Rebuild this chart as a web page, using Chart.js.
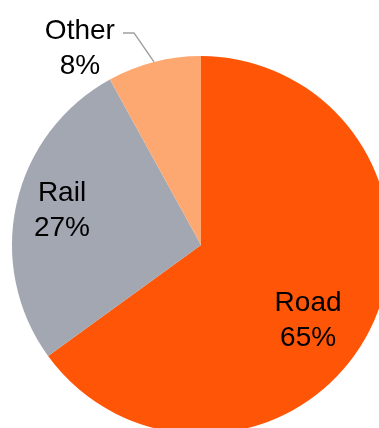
<!DOCTYPE html>
<html>
<head>
<meta charset="utf-8">
<script src="https://cdn.jsdelivr.net/npm/chart.js@4/dist/chart.umd.min.js"></script>
<style>
  html, body { margin: 0; padding: 0; background: #ffffff; overflow: hidden; width: 379px; height: 428px; }
  #wrap { position: absolute; left: 0; top: 0; }
</style>
</head>
<body>
<div id="wrap"><canvas id="pie" width="400" height="440"></canvas></div>
<script>
// 数据
const categories = ['Road', 'Rail', 'Other'];
const shares = [65, 27, 8];
const sliceColors = ['#fe5507', '#a2a7b2', '#fda870'];

// 标签位置（相对扇区中线的角度偏移和半径比例）
const labelPlacement = [
  { angle: 7.8, radius: 0.69, leader: false },
  { angle: 2.0, radius: 0.76, leader: false },
  { angle: -17, radius: 1.23, leader: true }
];

const pieLabels = {
  id: 'pieLabels',
  afterDatasetsDraw(chart) {
    const ctx = chart.ctx;
    const arcs = chart.getDatasetMeta(0).data;
    ctx.save();
    ctx.font = '28px "Liberation Sans", Arial, Helvetica, sans-serif';
    ctx.fillStyle = '#000000';
    ctx.textAlign = 'center';
    ctx.textBaseline = 'alphabetic';
    arcs.forEach(function(arc, i) {
      const p = labelPlacement[i];
      const mid = (arc.startAngle + arc.endAngle) / 2;
      const a = mid + p.angle * Math.PI / 180;
      const cx = arc.x + Math.cos(a) * arc.outerRadius * p.radius;
      const cy = arc.y + Math.sin(a) * arc.outerRadius * p.radius;
      ctx.fillText(categories[i], cx, cy - 8);
      ctx.fillText(shares[i] + '%', cx, cy + 27);
      if (p.leader) {
        // 引线：从扇区边缘到标签
        const ex = arc.x + Math.cos(mid) * arc.outerRadius;
        const ey = arc.y + Math.sin(mid) * arc.outerRadius;
        ctx.strokeStyle = '#a0a0a0';
        ctx.lineWidth = 1.5;
        ctx.beginPath();
        ctx.moveTo(ex, ey);
        ctx.lineTo(ex - 20, ey - 29);
        ctx.lineTo(ex - 31, ey - 29);
        ctx.stroke();
      }
    });
    ctx.restore();
  }
};

new Chart(document.getElementById('pie'), {
  type: 'pie',
  data: {
    labels: categories,
    datasets: [{
      data: shares,
      backgroundColor: sliceColors,
      borderWidth: 0,
      hoverOffset: 0
    }]
  },
  options: {
    responsive: false,
    animation: false,
    layout: { padding: { left: 12, top: 56, right: 10, bottom: 6 } },
    plugins: {
      legend: { display: false },
      tooltip: { enabled: false }
    }
  },
  plugins: [pieLabels]
});
</script>
</body>
</html>
